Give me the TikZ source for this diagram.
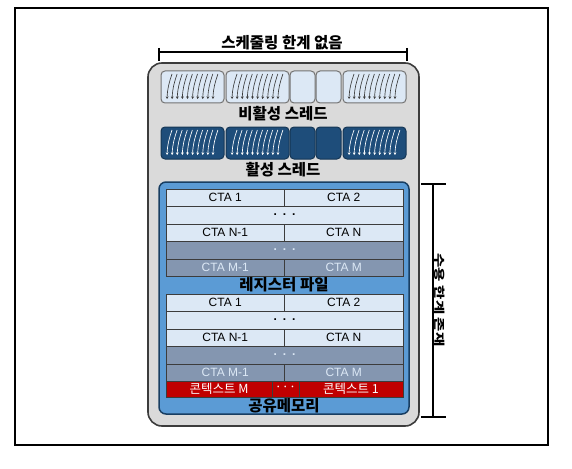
\documentclass[tikz,border=0pt]{standalone}
\usepackage{fontspec}
\setmainfont{Liberation Sans}
\newfontfamily\krfont{Noto Sans CJK KR}
\usetikzlibrary{positioning,arrows.meta,calc}
\definecolor{gpgray}{RGB}{218,218,218}
\definecolor{gpedge}{RGB}{60,60,60}
\definecolor{gplight}{RGB}{220,232,245}
\definecolor{gpnavy}{RGB}{30,77,122}
\definecolor{gpblue}{RGB}{91,155,213}
\definecolor{gpslate}{RGB}{132,150,176}
\definecolor{gpred}{RGB}{192,0,0}
\newcommand\dotrow{\textbf{.\hspace{6pt}.\hspace{6pt}.}}
\tikzset{
  warp/.style={draw=gray!90!black, rounded corners=4pt, minimum height=32pt, line width=1pt, inner sep=0pt},
  idle/.style={warp, fill=gplight},
  busy/.style={warp, fill=gpnavy, draw=gpnavy!70!black},
  thread/.style={-{Stealth[length=2.6pt,width=2.8pt]}, line width=0.65pt},
  cell/.style={draw=gpedge, fill=gplight, minimum height=17pt, inner sep=0pt, outer sep=0pt, line width=0.8pt, font=\fontsize{12}{14}\selectfont},
  dcell/.style={cell, fill=gpslate, text=gplight},
  rcell/.style={cell, fill=gpred, text=white, minimum height=16pt, font=\krfont\fontsize{12.5}{14}\selectfont},
  lbl/.style={font=\krfont\bfseries\fontsize{15.5}{18}\selectfont, inner sep=0pt},
  bracket/.style={line width=1.6pt}
}
\begin{document}
\begin{tikzpicture}[x=1pt,y=-1pt]
  \useasboundingbox (0,0) rectangle (572,468);
  \draw[line width=1.2pt] (15,8) rectangle (548,445);
  % scheduling limit
  \node[lbl] (sched) at (282,43) {스케줄링 한계 없음};
  \coordinate (tl) at (159,52);
  \coordinate (tr) at (407,52);
  \draw[bracket] (tl) -- (tr);
  \draw[bracket] ($(tl)+(0,-4)$) -- ($(tl)+(0,9)$);
  \draw[bracket] ($(tr)+(0,-4)$) -- ($(tr)+(0,9)$);
  % SM
  \node[draw=gpedge, fill=gpgray, rounded corners=14pt, line width=1.6pt, minimum width=271pt, minimum height=363pt] (sm) at (283.5,244.5) {};
  \foreach \cx/\w [count=\i] in {192.5/63,257.5/63,302.5/25,328.5/25,374.5/63} {
    \node[idle, minimum width=\w pt] (in\i) at (\cx,87) {};
    \node[busy, minimum width=\w pt] (ac\i) at (\cx,143) {};
  }
  \foreach \b/\c in {in1/gpedge,in2/gpedge,in5/gpedge,ac1/white,ac2/white,ac5/white}
    \foreach \k in {0,...,9}
      \draw[thread, \c] ($(\b.center)+(-20.5+5.1*\k,-13)$) .. controls +(-3,9) and +(0.5,-11) .. ($(\b.center)+(-25.5+5.1*\k,12)$);
  \node[lbl] (idlelbl) at (283,114) {비활성 스레드};
  \node[lbl] (actlbl) at (283,170) {활성 스레드};
  % memory
  \node[draw=gpnavy!80!black, fill=gpblue, rounded corners=7pt, line width=1.5pt, minimum width=250pt, minimum height=232pt] (mem) at (284,298) {};
  \foreach \t/\top in {reg/189,shm/294} {
    \node[cell, minimum width=118.5pt, anchor=north west] (\t1a) at (166,\top) {CTA 1};
    \node[cell, minimum width=118.5pt, right=0pt of \t1a] (\t1b) {CTA 2};
    \node[cell, minimum width=237pt, minimum height=18pt, below right=0pt of \t1a.south west] (\t2) {\dotrow};
    \node[cell, minimum width=118.5pt, below right=0pt of \t2.south west] (\t3a) {CTA N-1};
    \node[cell, minimum width=118.5pt, right=0pt of \t3a] (\t3b) {CTA N};
    \node[dcell, minimum width=237pt, minimum height=18pt, below right=0pt of \t3a.south west] (\t4) {\dotrow};
    \node[dcell, minimum width=118.5pt, below right=0pt of \t4.south west] (\t5a) {CTA M-1};
    \node[dcell, minimum width=118.5pt, right=0pt of \t5a] (\t5b) {CTA M};
  }
  \node[lbl] (reglbl) at (284,284.5) {레지스터 파일};
  \node[rcell, minimum width=106pt, below right=0pt of shm5a.south west] (ctxM) {콘텍스트 M};
  \node[rcell, minimum width=27pt, right=0pt of ctxM] (ctxdots) {···};
  \node[rcell, minimum width=104pt, right=0pt of ctxdots] (ctx1) {콘텍스트 1};
  \node[lbl] (shmlbl) at (284,406) {공유메모리};
  % capacity limit
  \coordinate (bt) at (433,184);
  \coordinate (bb) at (433,417);
  \draw[bracket] (bt) -- (bb);
  \draw[bracket] ($(bt)+(-12,0)$) -- ($(bt)+(13,0)$);
  \draw[bracket] ($(bb)+(-12,0)$) -- ($(bb)+(13,0)$);
  \node[lbl, rotate=-90, yscale=0.72] (cap) at (440,300) {수용 한계 존재};
\end{tikzpicture}
\end{document}
